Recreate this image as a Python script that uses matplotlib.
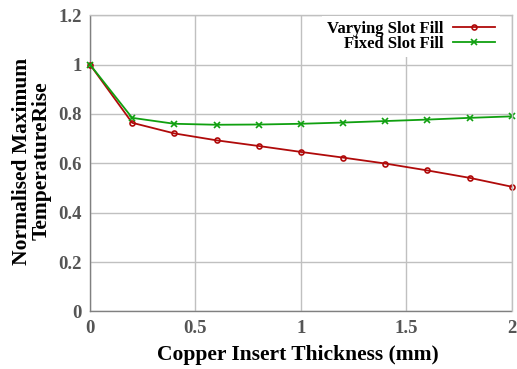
import matplotlib
matplotlib.use("Agg")
import matplotlib.pyplot as plt

thickness = [0, 0.2, 0.4, 0.6, 0.8, 1.0, 1.2, 1.4, 1.6, 1.8, 2.0]
varying_slot_fill = [1.0, 0.764, 0.721, 0.693, 0.670, 0.646, 0.623, 0.599, 0.571, 0.541, 0.505]
fixed_slot_fill = [1.0, 0.784, 0.760, 0.756, 0.757, 0.760, 0.765, 0.771, 0.777, 0.784, 0.790]
xticks = [0, 0.5, 1, 1.5, 2]
xticklabels = ["0", "0.5", "1", "1.5", "2"]
yticks = [0, 0.2, 0.4, 0.6, 0.8, 1, 1.2]
yticklabels = ["0", "0.2", "0.4", "0.6", "0.8", "1", "1.2"]

plt.rcParams['font.family'] = ['Liberation Serif', 'DejaVu Serif']

fig = plt.figure(figsize=(5.17, 3.69), dpi=100)
ax = fig.add_axes([0.174, 0.156, 0.816, 0.803])

red = '#b00a0a'
green = '#10a010'
ax.plot(thickness, varying_slot_fill, color=red, lw=1.3, marker='o', ms=3.6,
        mfc='none', mec=red, mew=1.2, label='Varying Slot Fill', zorder=3, clip_on=False)
ax.plot(thickness, fixed_slot_fill, color=green, lw=1.3, marker='x', ms=3.8,
        mew=1.2, label='Fixed Slot Fill', zorder=3, clip_on=False)

ax.set_xlim(0, 2)
ax.set_ylim(0, 1.2)
ax.set_xticks(xticks)
ax.set_xticklabels(xticklabels)
ax.set_yticks(yticks)
ax.set_yticklabels(yticklabels)
ax.grid(True, color='#c0c0c0', lw=1.0)
ax.set_axisbelow(True)
for s in ['top', 'right']:
    ax.spines[s].set_color('#c0c0c0')
    ax.spines[s].set_linewidth(1.0)
    ax.spines[s].set_zorder(5)
for s in ['left', 'bottom']:
    ax.spines[s].set_color('#808080')
    ax.spines[s].set_linestyle((0, (1, 1)))
    ax.spines[s].set_linewidth(1.0)
ax.tick_params(length=0, labelsize=13.5, labelcolor='#555555', pad=6)
for lab in ax.get_xticklabels() + ax.get_yticklabels():
    lab.set_fontweight('bold')

fig.text(0.5 * (0.174 + 0.99) - 0.005, 1 - 355 / 369, 'Copper Insert Thickness (mm)',
         fontsize=15.5, fontweight='bold', ha='center', va='center')
fig.text(32 / 517, 1 - 161 / 369, 'Normalised Maximum\nTemperatureRise',
         fontsize=15.5, fontweight='bold', ha='center', va='center',
         rotation=90, linespacing=0.95, multialignment='center')

leg = ax.legend(loc='upper right', markerfirst=False, frameon=True, fancybox=False,
                prop={'size': 12, 'weight': 'bold'}, handlelength=2.5,
                bbox_to_anchor=(0.972, 0.997), borderaxespad=0.0,
                labelspacing=-0.05, handletextpad=0.6, borderpad=0.3)
leg.get_frame().set_edgecolor('none')
leg.get_frame().set_facecolor('white')
leg.get_frame().set_alpha(1.0)
leg._legend_box.align = 'right'

fig.savefig('out.png', dpi=100)
